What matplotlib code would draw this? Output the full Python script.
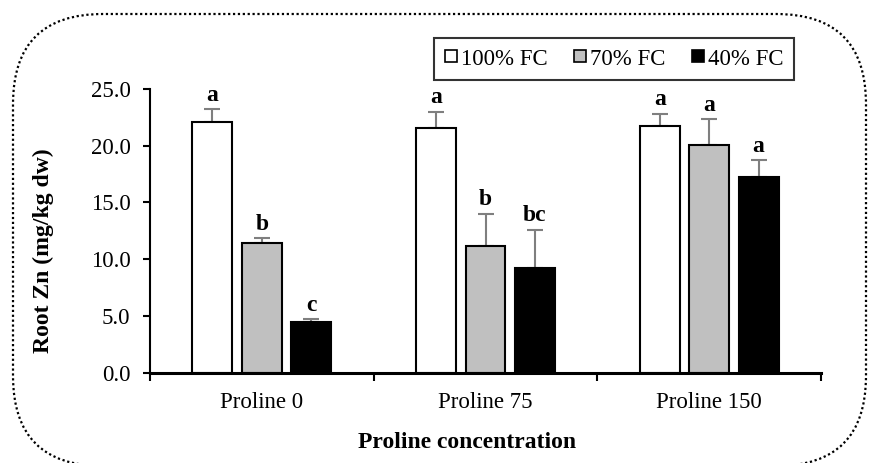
import matplotlib
matplotlib.use("Agg")
import matplotlib.pyplot as plt
import numpy as np
from matplotlib.patches import FancyBboxPatch
from matplotlib.lines import Line2D

categories = ["Proline 0", "Proline 75", "Proline 150"]
series_names = ["100% FC", "70% FC", "40% FC"]
fc100 = [22.1, 21.6, 21.7]
fc70 = [11.4, 11.2, 20.1]
fc40 = [4.45, 9.25, 17.25]
err100 = [1.1, 1.4, 1.1]
err70 = [0.45, 2.8, 2.25]
err40 = [0.25, 3.35, 1.45]
letters100 = ["a", "a", "a"]
letters70 = ["b", "b", "a"]
letters40 = ["c", "bc", "a"]
yticks = [0.0, 5.0, 10.0, 15.0, 20.0, 25.0]

plt.rcParams['font.family'] = ['Liberation Serif', 'DejaVu Serif']

fig = plt.figure(figsize=(8.69, 4.63), dpi=100)
ax = fig.add_axes([150/869, 1-372.7/463, (821-150)/869, (372.7-89)/463])

colors = ["white", "#c0c0c0", "black"]
values = [fc100, fc70, fc40]
errs = [err100, err70, err40]
lets = [letters100, letters70, letters40]
x = np.arange(len(categories))
w = 0.178
step = 0.221
for i in range(3):
    xs = x + (i - 1) * step
    ax.bar(xs, values[i], width=w, color=colors[i], edgecolor="black", linewidth=1.5, zorder=2)
    ax.errorbar(xs, values[i], yerr=[np.zeros(3), errs[i]], fmt="none", ecolor="#7f7f7f",
                elinewidth=1.5, capsize=5.5, capthick=1.5, zorder=1)
    for xx, v, e, t in zip(xs, values[i], errs[i], lets[i]):
        ax.annotate(t, (xx, v + e), xytext=(0, 2.5), textcoords="offset points",
                    ha="center", va="bottom", fontsize=17, fontweight="bold")

ax.set_xlim(-0.5, 2.5)
ax.set_ylim(0, 25)
ax.set_yticks(yticks)
ax.set_yticklabels([f"{t:.1f}" for t in yticks], fontsize=16.5)
ax.set_xticks([-0.5, 0.5, 1.5, 2.5])
ax.set_xticklabels([])
ax.set_xticks(x, minor=True)
ax.set_xticklabels(categories, minor=True, fontsize=16.5)
ax.tick_params(axis="x", which="minor", length=0, pad=14)
ax.tick_params(axis="x", which="major", length=6, width=1.5, direction="out")
ax.tick_params(axis="y", length=5, width=1.5, direction="out", pad=9)
for s in ["top", "right"]:
    ax.spines[s].set_visible(False)
ax.spines["left"].set_linewidth(1.5)
ax.spines["bottom"].set_linewidth(2.2)

fig.text(43/869, 1-251/463, "Root Zn (mg/kg dw)", rotation=90, ha="center", va="center",
         fontsize=17, fontweight="bold")
fig.text(467/869, 1-443/463, "Proline concentration", ha="center", va="center",
         fontsize=17, fontweight="bold")

handles = [Line2D([], [], marker="s", linestyle="none", markersize=9, markerfacecolor=c,
                  markeredgecolor="black", markeredgewidth=1.2) for c in colors]
leg = fig.legend(handles, series_names, loc="center", bbox_to_anchor=(614/869, 1-59/463),
                 ncol=3, frameon=True, fancybox=False, fontsize=16.5, handlelength=0.6,
                 handletextpad=0.15, columnspacing=1.1, borderpad=0.45, borderaxespad=0)
leg.get_frame().set_edgecolor("black")
leg.get_frame().set_linewidth(1.5)

border = FancyBboxPatch((0.13, -0.03), 8.66 - 0.13, 4.49 + 0.03,
                        boxstyle="round,pad=0,rounding_size=0.9",
                        transform=fig.dpi_scale_trans, fill=False, edgecolor="black",
                        linewidth=1.6, linestyle=(0, (1, 1.2)), clip_on=False)
fig.patches.append(border)

fig.savefig("out.png", dpi=100)
